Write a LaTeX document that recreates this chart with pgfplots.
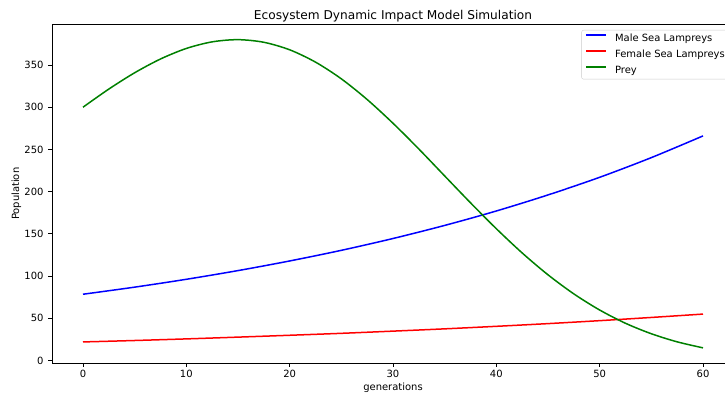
\documentclass[border=0pt]{standalone}
\usepackage{fontspec}
\setmainfont{DejaVu Sans}
\usepackage{pgfplots}
\pgfplotsset{compat=1.18}
\definecolor{mplblue}{RGB}{0,0,255}
\definecolor{mplred}{RGB}{255,0,0}
\definecolor{mplgreen}{RGB}{0,128,0}
\begin{document}
\begin{tikzpicture}
\begin{axis}[
  at={(0,0)}, anchor=south west,
  scale only axis, width=682bp, height=339bp,
  xmin=-3, xmax=63, ymin=-3.3, ymax=398.2,
  xtick={0,10,...,60}, ytick={0,50,...,350},
  tick align=outside, xtick pos=bottom, ytick pos=left,
  major tick length=3.5bp,
  every tick/.style={black, line width=0.8bp},
  axis line style={black, line width=0.8bp},
  /pgf/number format/assume math mode=true,
  ticklabel style={font=\fontsize{10}{12}\selectfont},
  yticklabel style={xshift=-1.5bp},
  title={Ecosystem Dynamic Impact Model Simulation},
  every axis title/.style={at={(axis description cs:0.5,1)}, anchor=base, yshift=5bp, font=\fontsize{12.2}{14}\selectfont},
  xlabel={generations}, ylabel={Population},
  every axis x label/.style={at={(axis description cs:0.5,0)}, anchor=base, yshift=-27.5bp, font=\fontsize{10}{12}\selectfont},
  every axis y label/.style={at={(axis description cs:0,0.5)}, xshift=-35.5bp, rotate=90, anchor=center, font=\fontsize{10}{12}\selectfont},
  legend cell align=left,
  legend image code/.code={\draw[#1, line width=1.5bp] (0bp,3.5bp) -- (20bp,3.5bp);},
  legend style={at={(axis description cs:1,1)}, anchor=north east, xshift=-5bp, yshift=-5.7bp,
    draw=black!20, rounded corners=2bp, fill=white, fill opacity=0.8, text opacity=1,
    font=\fontsize{10}{12}\selectfont, inner xsep=4bp, inner ysep=3bp, row sep=5bp, column sep=0bp,
    nodes={inner sep=0bp, text height=8bp, text depth=3bp},
    /tikz/every odd column/.style={column sep=8bp}},
]
\addplot[draw=mplblue, line width=1.5bp, smooth] coordinates {
(0,78.5) (5,86.9) (10,96.2) (15,106.5) (20,117.9) (25,130.5) (30,144.5) (35,160.0) (40,177.1) (45,196.1) (50,217.0) (55,240.3) (60,266)};
\addlegendentry{Male Sea Lampreys}
\addplot[draw=mplred, line width=1.5bp, smooth] coordinates {
(0,22) (5,23.7) (10,25.6) (15,27.7) (20,29.9) (25,32.2) (30,34.8) (35,37.5) (40,40.5) (45,43.7) (50,47.2) (55,51.0) (60,55)};
\addlegendentry{Female Sea Lampreys}
\addplot[draw=mplgreen, line width=1.5bp, smooth] coordinates {
(0,300) (2.5,321.5) (5,340.8) (7.5,357.1) (10,369.6) (12.5,377.4) (15,380.0) (17.5,376.9) (20,368.0) (22.5,353.4) (25,333.6) (27.5,309.1) (30,281.0) (32.5,250.5) (35,218.6) (37.5,186.8) (40,156.1) (42.5,127.4) (45,101.5) (47.5,78.9) (50,59.8) (52.5,44.1) (55,31.7) (57.5,22.1) (60,15.0)};
\addlegendentry{Prey}
\end{axis}
\pgfresetboundingbox
\path[use as bounding box] (-52bp,-33.7bp) rectangle (673bp,363.3bp);
\end{tikzpicture}
\end{document}
